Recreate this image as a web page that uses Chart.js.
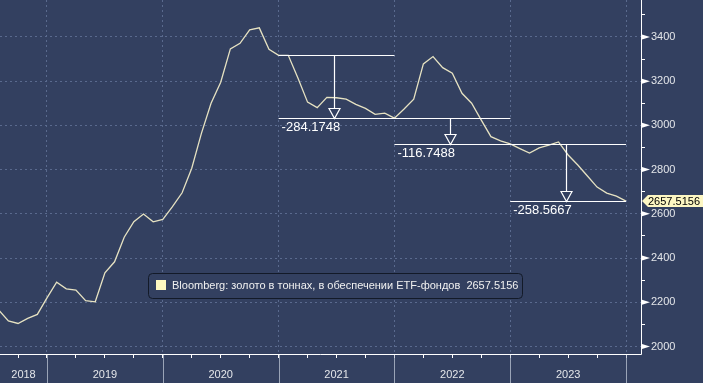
<!DOCTYPE html>
<html lang="ru">
<head>
<meta charset="UTF-8" />
<title>Bloomberg: золото в тоннах, в обеспечении ETF-фондов</title>
<script src="https://cdn.jsdelivr.net/npm/chart.js"></script>
<style>
  html, body { margin: 0; padding: 0; background: #334060; overflow: hidden; }
  canvas { display: block; }
</style>
</head>
<body>
<canvas id="goldChart" width="703" height="383"></canvas>
<script>
// месяцы считаем от января 2018 (0 = янв 2018)
const firstMonth = 7; // авг 2018
const etfGold = [
  // 2018 авг-дек
  2165, 2116, 2104, 2127, 2145,
  // 2019
  2220, 2291, 2261, 2255, 2207, 2202, 2333, 2383, 2494, 2564, 2599, 2564,
  // 2020
  2575, 2632, 2695, 2806, 2964, 3100, 3195, 3346, 3371, 3432, 3441, 3344,
  // 2021
  3317.0059, 3317, 3214, 3105, 3080, 3127, 3125, 3119, 3095, 3077, 3050, 3055,
  // 2022
  3032.8311, 3074, 3118, 3278, 3311, 3261, 3236, 3145, 3100, 3024, 2949, 2930,
  // 2023
  2916.0823, 2895, 2875, 2898, 2911, 2925, 2866, 2821, 2771, 2721, 2694, 2680,
  // 2024
  2657.5156
];
const years = [2018, 2019, 2020, 2021, 2022, 2023];
const yMajorTicks = [2000, 2200, 2400, 2600, 2800, 3000, 3200, 3400];
const dropMonths = [36, 48, 60, 72]; // янв 2021 .. янв 2024
const dropLabels = ['-284.1748', '-116.7488', '-258.5667'];
const legendLabel = 'Bloomberg: золото в тоннах, в обеспечении ETF-фондов';
const lastLabel = '2657.5156';

const BG = '#334060';
const GRID = '#5a6a8e';
const FONT = '"Liberation Sans", Arial, sans-serif';

const points = etfGold.map((v, i) => ({ x: firstMonth + i, y: v }));
const valueAt = m => etfGold[m - firstMonth];

const overlay = {
  id: 'overlay',
  beforeDraw(chart) {
    const { ctx, width, height } = chart;
    ctx.save();
    ctx.fillStyle = BG;
    ctx.fillRect(0, 0, width, height);
    ctx.restore();
  },
  afterDatasetsDraw(chart) {
    const { ctx } = chart;
    const xs = chart.scales.x, ys = chart.scales.y;
    ctx.save();
    ctx.strokeStyle = '#ffffff';
    ctx.fillStyle = '#ffffff';
    ctx.lineWidth = 1.2;
    ctx.font = '13px ' + FONT;
    ctx.textBaseline = 'top';
    for (let i = 0; i < dropLabels.length; i++) {
      const m0 = dropMonths[i], m1 = dropMonths[i + 1];
      const m2 = dropMonths[Math.min(i + 2, dropMonths.length - 1)];
      const xa = xs.getPixelForValue(m0), xb = xs.getPixelForValue(m1);
      const xc = xs.getPixelForValue(m2);
      const y0 = Math.round(ys.getPixelForValue(valueAt(m0))) + 0.5;
      const y1 = Math.round(ys.getPixelForValue(valueAt(m1))) + 0.5;
      const xm = Math.floor((xa + xb) / 2) - 1.5;
      ctx.beginPath();
      ctx.moveTo(xa, y0); ctx.lineTo(xb, y0);
      ctx.moveTo(xa, y1); ctx.lineTo(xc, y1);
      ctx.moveTo(xm, y0); ctx.lineTo(xm, y1 - 10);
      ctx.stroke();
      ctx.beginPath();
      ctx.moveTo(xm - 5.5, y1 - 10);
      ctx.lineTo(xm + 5.5, y1 - 10);
      ctx.lineTo(xm, y1);
      ctx.closePath();
      ctx.fillStyle = BG;
      ctx.fill();
      ctx.stroke();
      ctx.fillStyle = '#ffffff';
      ctx.fillText(dropLabels[i], xa + 3, y1 + 2);
    }
    ctx.restore();
  },
  afterDraw(chart) {
    const { ctx, chartArea: a, height } = chart;
    const xs = chart.scales.x, ys = chart.scales.y;
    ctx.save();

    // оси
    ctx.strokeStyle = '#ffffff';
    ctx.lineWidth = 1;
    ctx.beginPath();
    ctx.moveTo(0, a.bottom + 0.5); ctx.lineTo(a.right + 0.5, a.bottom + 0.5);
    ctx.moveTo(a.right + 0.5, 0); ctx.lineTo(a.right + 0.5, a.bottom + 0.5);
    ctx.stroke();

    // стрелки на основных делениях
    ctx.fillStyle = '#ffffff';
    yMajorTicks.forEach(v => {
      const y = ys.getPixelForValue(v);
      ctx.beginPath();
      ctx.moveTo(a.right + 1, y - 2.5);
      ctx.lineTo(a.right + 9, y);
      ctx.lineTo(a.right + 1, y + 2.5);
      ctx.closePath();
      ctx.fill();
    });

    // годы
    ctx.strokeStyle = 'rgba(190,198,212,0.75)';
    ctx.font = '11px ' + FONT;
    ctx.textAlign = 'center';
    ctx.textBaseline = 'middle';
    ctx.fillStyle = '#e4e6ea';
    years.forEach(yr => {
      const m = (yr - 2018) * 12;
      const xl = Math.max(xs.getPixelForValue(m), a.left);
      const xr = Math.min(xs.getPixelForValue(m + 12), a.right);
      ctx.fillText(String(yr), (xl + xr) / 2, a.bottom + 21);
      const xsep = Math.round(xs.getPixelForValue(m + 12)) + 0.5;
      ctx.beginPath();
      ctx.moveTo(xsep, a.bottom + 1); ctx.lineTo(xsep, height);
      ctx.stroke();
    });

    // легенда
    const lx = 148.5, ly = 273.5, lw = 374, lh = 25;
    ctx.beginPath();
    ctx.roundRect(lx, ly, lw, lh, 4);
    ctx.fillStyle = BG;
    ctx.fill();
    ctx.strokeStyle = '#131a28';
    ctx.lineWidth = 1;
    ctx.stroke();
    ctx.fillStyle = '#fdf8c0';
    ctx.fillRect(156, 280, 10, 10);
    ctx.fillStyle = '#f0f0f0';
    ctx.textAlign = 'left';
    ctx.fillText(legendLabel + '  ' + lastLabel, 172, 286);

    // метка последнего значения
    const yl = ys.getPixelForValue(etfGold[etfGold.length - 1]);
    ctx.beginPath();
    ctx.moveTo(a.right + 1, yl);
    ctx.lineTo(a.right + 7, yl - 6);
    ctx.lineTo(703, yl - 6);
    ctx.lineTo(703, yl + 6);
    ctx.lineTo(a.right + 7, yl + 6);
    ctx.closePath();
    ctx.fillStyle = '#fdf7c3';
    ctx.fill();
    ctx.fillStyle = '#000000';
    ctx.font = '11px ' + FONT;
    ctx.fillText(lastLabel, a.right + 7, yl + 0.5);

    ctx.restore();
  }
};

new Chart(document.getElementById('goldChart').getContext('2d'), {
  type: 'line',
  data: {
    datasets: [{
      data: points,
      borderColor: '#e6e2c2',
      borderWidth: 1.3,
      pointRadius: 0,
      tension: 0,
      fill: false
    }]
  },
  options: {
    responsive: false,
    animation: false,
    layout: { padding: 0 },
    plugins: { legend: { display: false }, tooltip: { enabled: false } },
    scales: {
      x: {
        type: 'linear',
        min: 7.13,
        max: 73.55,
        afterBuildTicks: s => {
          const t = [];
          for (let m = 9; m <= 72; m += 3) t.push({ value: m });
          s.ticks = t;
        },
        afterFit: s => { s.height = 29; s.paddingLeft = 0; s.paddingRight = 0; },
        ticks: { display: false },
        border: { display: false, dash: [2, 3] },
        grid: {
          color: c => (c.tick && c.tick.value % 12 === 0) ? GRID : 'rgba(0,0,0,0)',
          lineWidth: 1,
          tickColor: '#ffffff',
          tickLength: 4
        }
      },
      y: {
        position: 'right',
        min: 1966,
        max: 3567,
        afterBuildTicks: s => {
          const t = [];
          for (let v = 2000; v <= 3500; v += 100) t.push({ value: v });
          s.ticks = t;
        },
        afterFit: s => { s.width = 62; s.paddingTop = 0; s.paddingBottom = 0; },
        border: { display: false, dash: [2, 3] },
        grid: {
          color: c => (c.tick && c.tick.value % 200 === 0) ? GRID : 'rgba(0,0,0,0)',
          lineWidth: 1,
          tickColor: c => (c.tick && c.tick.value % 200 === 0) ? 'rgba(0,0,0,0)' : '#ffffff',
          tickLength: 4
        },
        ticks: {
          callback: v => (v % 200 === 0 ? String(v) : ''),
          color: '#e4e6ea',
          font: { family: FONT, size: 11 },
          padding: 6
        }
      }
    }
  },
  plugins: [overlay]
});
</script>
</body>
</html>
